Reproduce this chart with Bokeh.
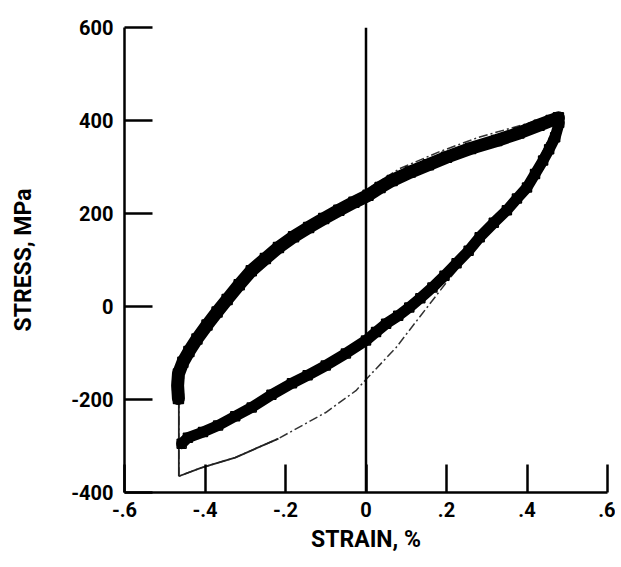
from bokeh.plotting import figure
from bokeh.models import Span, FixedTicker
from bokeh.embed import file_html
from bokeh.resources import INLINE

# ---- data ----
x_ticks = [-0.6, -0.4, -0.2, 0.0, 0.2, 0.4, 0.6]
x_tick_labels = ["-.6", "-.4", "-.2", "0", ".2", ".4", ".6"]
y_ticks = [-400, -200, 0, 200, 400, 600]
y_tick_labels = ["-400", "-200", "0", "200", "400", "600"]

# measured loop, loading branch (compression -> tension)
up_strain = [-0.466, -0.468, -0.466, -0.455, -0.44, -0.42, -0.395, -0.37, -0.345,
             -0.315, -0.285, -0.25, -0.2175, -0.18, -0.1425, -0.105, -0.0675, -0.03,
             0.005, 0.035, 0.065, 0.11, 0.155, 0.2, 0.26, 0.325, 0.38, 0.43, 0.46, 0.478]
up_stress = [-198, -170, -145, -120, -97, -70, -40, -12, 15,
             47, 77, 103, 127, 150, 170, 189, 207, 224,
             239, 256, 271, 289, 305, 321, 340, 357, 373, 390, 400, 406]

# measured loop, unloading branch (tension -> compression)
lo_strain = [0.48, 0.47, 0.455, 0.44, 0.42, 0.4, 0.375, 0.35, 0.3175, 0.2825,
             0.255, 0.225, 0.195, 0.165, 0.135, 0.1075, 0.08, 0.05, 0.025, 0.0,
             -0.05, -0.1, -0.145, -0.184, -0.235, -0.284, -0.325, -0.3675, -0.405,
             -0.4425, -0.458]
lo_stress = [395, 364, 338, 314, 285, 256, 232, 207, 180, 149,
             120, 93, 66, 41, 18, -2, -20, -37, -55, -73,
             -101, -127, -148, -165, -190, -217, -236, -256, -270,
             -282, -295]

# computed (model) loop
mod_up_strain = [-0.465, -0.465, -0.45, -0.4, -0.3, -0.2, -0.1, 0.0, 0.0825, 0.18, 0.28, 0.415, 0.48]
mod_up_stress = [-365, -200, -130, -50, 65, 140, 195, 250, 296, 332, 364, 397, 412]
mod_lo_strain = [0.48, 0.4, 0.3, 0.2, 0.14, 0.075, 0.0, -0.025, -0.1, -0.2175, -0.325, -0.41, -0.465]
mod_lo_stress = [410, 258, 160, 52, -15, -88, -157, -181, -228, -284, -325, -347, -365]

FONT = "Roboto"

p = figure(width=615, height=560, x_range=(-0.6, 0.6), y_range=(-400, 600),
           output_backend="svg", toolbar_location=None,
           min_border_left=124, min_border_right=8, min_border_top=27, min_border_bottom=68)
p.outline_line_color = None
p.xgrid.visible = False
p.ygrid.visible = False
p.background_fill_color = "white"
p.border_fill_color = "white"

for ax in (p.xaxis[0], p.yaxis[0]):
    ax.axis_line_width = 2.5
    ax.axis_line_color = "black"
    ax.major_tick_line_width = 2.5
    ax.major_tick_line_color = "black"
    ax.major_tick_in = 28
    ax.major_tick_out = 0
    ax.minor_tick_line_color = None
    ax.major_label_text_font = FONT
    ax.major_label_text_font_style = "bold"
    ax.major_label_text_font_size = "20px"
    ax.major_label_text_color = "black"
    ax.axis_label_text_font = FONT
    ax.axis_label_text_font_style = "bold"
    ax.axis_label_text_font_size = "23px"
    ax.axis_label_text_color = "black"

p.xaxis.ticker = FixedTicker(ticks=x_ticks)
p.xaxis.major_label_overrides = {t: l for t, l in zip(x_ticks, x_tick_labels)}
p.yaxis.ticker = FixedTicker(ticks=y_ticks)
p.yaxis.major_label_overrides = {t: l for t, l in zip(y_ticks, y_tick_labels)}
p.xaxis.axis_label = "STRAIN, %"
p.yaxis.axis_label = "STRESS, MPa"
p.xaxis.major_label_standoff = 9
p.xaxis.axis_label_standoff = 6
p.yaxis.major_label_standoff = 11
p.yaxis.axis_label_standoff = 31

p.add_layout(Span(location=0, dimension="height", line_color="black", line_width=2.5))

# model loop (thin)
p.line(mod_up_strain, mod_up_stress, line_color="#333333", line_width=1.5, line_dash="9 3 2 3")
p.line(mod_lo_strain, mod_lo_stress, line_color="#333333", line_width=1.5, line_dash="9 3 2 3")
p.line(mod_up_strain[:2], mod_up_stress[:2], line_color="#222222", line_width=1.8)
p.line(mod_lo_strain[9:], mod_lo_stress[9:], line_color="#222222", line_width=1.8)

# measured loop (dense open squares)
p.line(up_strain, up_stress, line_color="black", line_width=13, line_join="round", line_cap="round")
p.line(lo_strain, lo_stress, line_color="black", line_width=11, line_join="round", line_cap="round")
p.scatter(up_strain, up_stress, marker="square", size=10, fill_color=None, line_color="black", line_width=1.5)
p.scatter(lo_strain, lo_stress, marker="square", size=9, fill_color=None, line_color="black", line_width=1.5)

open("out.html", "w").write(file_html(p, INLINE))
